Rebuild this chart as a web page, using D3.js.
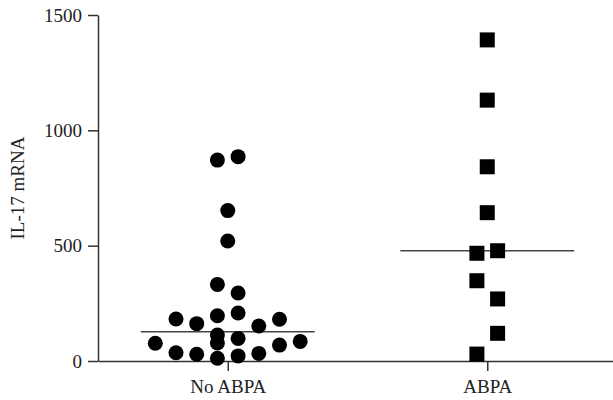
<!DOCTYPE html>
<html>
<head>
<meta charset="utf-8">
<script src="https://cdn.jsdelivr.net/npm/d3@7"></script>
<style>
  body { margin: 0; background: #fff; }
  text { font-family: "Liberation Serif", "DejaVu Serif", serif; }
</style>
</head>
<body>
<script>
const width = 613;
const height = 400;

const groups = ["No ABPA", "ABPA"];
const yTicks = [0, 500, 1000, 1500];

// values, offsets are the jitter columns (in dot widths)
const noAbpaValues  = [871, 886, 652, 520, 332, 295, 182, 162, 196, 208, 152, 181, 77, 113, 78, 98, 69, 85, 36, 29, 12, 22, 33];
const noAbpaOffsets = [-0.5, 0.5, 0, 0, -0.5, 0.5, -2.5, -1.5, -0.5, 0.5, 1.5, 2.5, -3.5, -0.5, -0.5, 0.5, 2.5, 3.5, -2.5, -1.5, -0.5, 0.5, 1.5];
const abpaValues  = [1392, 1131, 842, 643, 467, 478, 348, 269, 120, 30];
const abpaOffsets = [0, 0, 0, 0, -0.5, 0.5, -0.5, 0.5, 0.5, -0.5];
const medians = [127, 478];

const margin = {left: 98, top: 15, bottom: 39};

const svg = d3.select('body')
  .append('svg')
  .attr('width', width)
  .attr('height', height);

const y = d3.scaleLinear()
  .domain([0, 1500])
  .range([height - margin.bottom, margin.top]);

const x = d3.scalePoint()
  .domain(groups)
  .range([margin.left, 617])
  .padding(0.5);

// jitter offset in dot widths -> pixels
const jitter = d3.scaleLinear().domain([0, 1]).range([0, 20.7]);

// axes
const yAxis = svg.append("g")
  .attr("transform", "translate(" + margin.left + ",0)")
  .call(d3.axisLeft(y).tickValues(yTicks).tickFormat(d3.format("d"))
    .tickSize(10).tickSizeOuter(0).tickPadding(6));

const xAxis = svg.append("g")
  .attr("transform", "translate(0," + y(0) + ")")
  .call(d3.axisBottom(x).tickSize(10).tickSizeOuter(0).tickPadding(9));

[yAxis, xAxis].forEach(function(a) {
  a.selectAll("path, line").attr("stroke", "#333").attr("stroke-width", 1.5);
  a.selectAll("text").attr("fill", "#222").style("font-size", "19px")
    .style("font-family", '"Liberation Serif", "DejaVu Serif", serif');
});

svg.append("text")
  .attr("transform", "translate(24," + y(750) + ") rotate(-90)")
  .attr("text-anchor", "middle")
  .style("font-size", "19px")
  .attr("fill", "#222")
  .text("IL-17 mRNA");

// median lines
svg.append("g")
  .selectAll("line")
  .data(medians)
  .enter().append("line")
  .attr("x1", (d, i) => x(groups[i]) + jitter(-4.2))
  .attr("x2", (d, i) => x(groups[i]) + jitter(4.2))
  .attr("y1", d => y(d))
  .attr("y2", d => y(d))
  .attr("stroke", "#444")
  .attr("stroke-width", 1.5);

// No ABPA circles
svg.append("g")
  .selectAll("circle")
  .data(noAbpaValues)
  .enter().append("circle")
  .attr("cx", (d, i) => x(groups[0]) + jitter(noAbpaOffsets[i]))
  .attr("cy", d => y(d))
  .attr("r", 7.5)
  .attr("fill", "#000");

// ABPA squares
const size = 15;
svg.append("g")
  .selectAll("rect")
  .data(abpaValues)
  .enter().append("rect")
  .attr("x", (d, i) => x(groups[1]) + jitter(abpaOffsets[i]) - size / 2)
  .attr("y", d => y(d) - size / 2)
  .attr("width", size)
  .attr("height", size)
  .attr("fill", "#000");
</script>
</body>
</html>
